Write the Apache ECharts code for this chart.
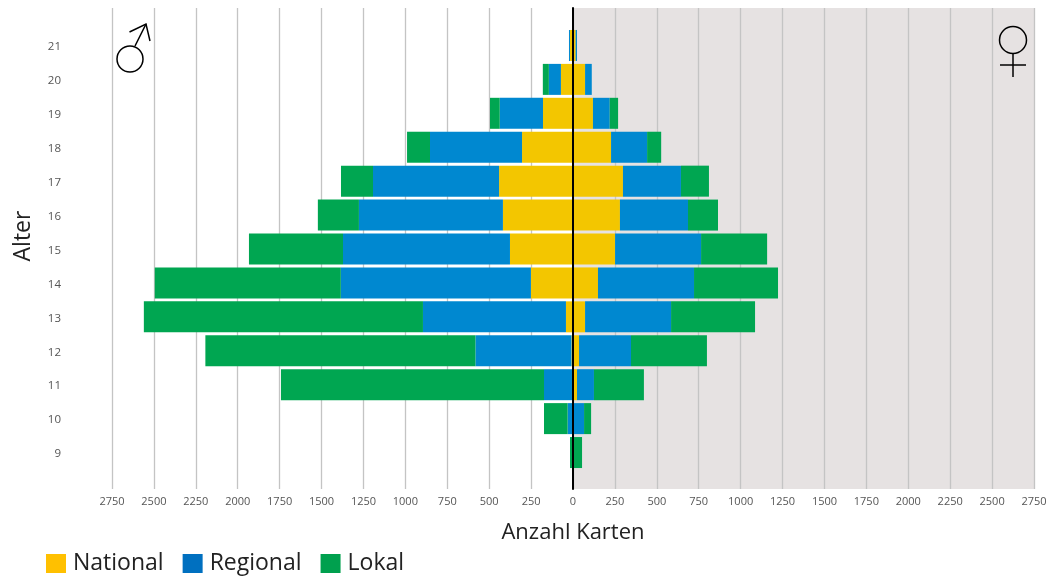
<!DOCTYPE html>
<html>
<head>
<meta charset="utf-8">
<style>
html, body { margin: 0; padding: 0; background: #fff; }
#main { width: 1047px; height: 577px; }
</style>
<script src="https://cdn.jsdelivr.net/npm/echarts@6/dist/echarts.min.js"></script>
</head>
<body>
<div id="main"></div>
<script>
var ages = ['9', '10', '11', '12', '13', '14', '15', '16', '17', '18', '19', '20', '21'];

// Maenner
var maleNational = [0, 0, 0, 9, 42, 251, 376, 418, 441, 304, 179, 72, 18];
var maleRegional = [0, 32, 173, 573, 853, 1134, 996, 859, 752, 549, 258, 72, 6];
var maleLokal = [18, 141, 1569, 1611, 1665, 1110, 561, 245, 191, 137, 58, 36, 0];

// Frauen
var femaleNational = [0, 0, 24, 36, 72, 149, 251, 280, 298, 227, 119, 72, 16];
var femaleRegional = [0, 66, 101, 310, 513, 573, 513, 406, 346, 215, 100, 40, 8];
var femaleLokal = [54, 42, 298, 453, 501, 501, 394, 179, 167, 84, 50, 0, 0];

var colors = {National: '#f3c600', Regional: '#0088d0', Lokal: '#00a651'};
var legendColors = {National: '#ffc000', Regional: '#0070c0', Lokal: '#00a04e'};
var fontName = '"Open Sans", "Noto Sans", sans-serif';

function negate(list) {
    return list.map(function (v) { return -v; });
}

function barSeries(name, data) {
    return {
        name: name,
        type: 'bar',
        xAxisIndex: 1,
        yAxisIndex: 1,
        stack: 'alter',
        barWidth: 31,
        itemStyle: {color: colors[name]},
        data: data
    };
}

function symbolLine(points) {
    return {
        type: 'polyline',
        z: 100,
        shape: {points: points},
        style: {stroke: '#000', lineWidth: 1.5, fill: 'none'}
    };
}

function symbolRing(cx, cy, r) {
    return {
        type: 'circle',
        z: 100,
        shape: {cx: cx, cy: cy, r: r},
        style: {fill: 'none', stroke: '#000', lineWidth: 1.5}
    };
}

var chart = echarts.init(document.getElementById('main'));
chart.setOption({
    animation: false,
    textStyle: {fontFamily: fontName},
    grid: [
        {left: 112, top: 8, width: 922, height: 481, outerBoundsMode: 'none'},
        {left: 112, top: 28.5, width: 922, height: 441, outerBoundsMode: 'none'}
    ],
    xAxis: [{
        gridIndex: 0,
        type: 'value',
        min: -2750,
        max: 2750,
        interval: 250,
        z: 1,
        name: 'Anzahl Karten',
        nameLocation: 'center',
        nameGap: 33,
        nameTextStyle: {fontSize: 22, color: '#222'},
        axisLine: {show: false},
        axisTick: {show: false},
        axisLabel: {
            margin: 7,
            fontSize: 11,
            color: '#555',
            formatter: function (v) { return String(Math.abs(v)); }
        },
        splitLine: {lineStyle: {color: '#c4c4c4', width: 1.3}}
    }, {
        gridIndex: 1,
        type: 'value',
        min: -2750,
        max: 2750,
        show: false
    }],
    yAxis: [{
        gridIndex: 0,
        type: 'value',
        min: 0,
        max: 1,
        z: 5,
        axisLine: {show: true, onZero: true, lineStyle: {color: '#000', width: 2}},
        axisTick: {show: false},
        axisLabel: {show: false},
        splitLine: {show: false}
    }, {
        gridIndex: 1,
        type: 'category',
        data: ages,
        name: 'Alter',
        nameLocation: 'center',
        nameGap: 77,
        nameTextStyle: {fontSize: 23, color: '#222', padding: [0, 0, 0, 26]},
        axisLine: {show: false, onZero: false},
        axisTick: {show: false},
        axisLabel: {margin: 51, fontSize: 11.5, color: '#555', verticalAlign: 'top', lineHeight: 3}
    }],
    legend: {
        left: 46,
        top: 552,
        padding: 0,
        itemWidth: 20,
        itemHeight: 19,
        itemGap: 19,
        icon: 'rect',
        textStyle: {fontSize: 23, color: '#222', padding: [0, 0, 0, 2]},
        data: ['National', 'Regional', 'Lokal'].map(function (name) {
            return {name: name, itemStyle: {color: legendColors[name]}};
        })
    },
    graphic: [
        // Maennlich
        symbolRing(130, 59, 13),
        symbolLine([[135, 46], [146, 24]]),
        symbolLine([[129.5, 32], [146, 24], [150, 41]]),
        // Weiblich
        symbolRing(1013, 40, 13.5),
        symbolLine([[1013, 53.5], [1013, 77]]),
        symbolLine([[1000, 65], [1026, 65]])
    ],
    series: [
        {
            type: 'line',
            xAxisIndex: 0,
            yAxisIndex: 0,
            z: -1,
            data: [],
            markArea: {
                silent: true,
                z: -1,
                itemStyle: {color: '#e6e2e2'},
                data: [[{xAxis: 0, yAxis: 0}, {xAxis: 2750, yAxis: 1}]]
            }
        },
        barSeries('National', negate(maleNational)),
        barSeries('Regional', negate(maleRegional)),
        barSeries('Lokal', negate(maleLokal)),
        barSeries('National', femaleNational),
        barSeries('Regional', femaleRegional),
        barSeries('Lokal', femaleLokal)
    ]
});
</script>
</body>
</html>
